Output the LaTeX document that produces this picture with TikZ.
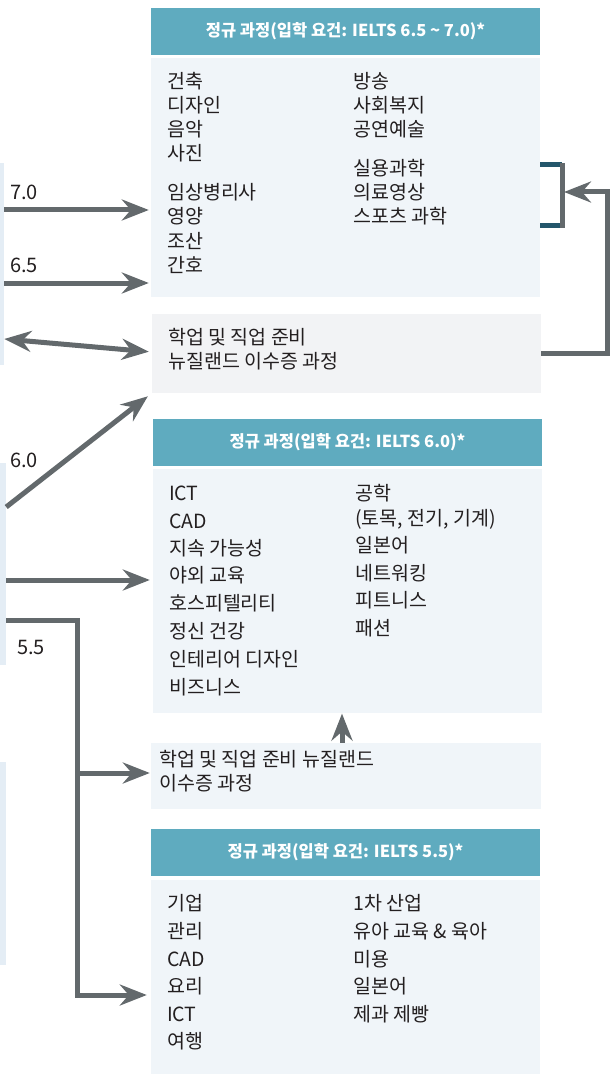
\documentclass[tikz,border=0pt]{standalone}
\usepackage{fontspec}
\setmainfont{Noto Sans CJK KR}
\usetikzlibrary{arrows.meta,positioning}
\definecolor{hdrteal}{RGB}{95,171,191}
\definecolor{bodyblue}{RGB}{240,245,249}
\definecolor{boxgray}{RGB}{242,243,245}
\definecolor{stripblue}{RGB}{228,237,245}
\definecolor{arrgray}{RGB}{99,105,108}
\definecolor{brkteal}{RGB}{35,86,107}
\definecolor{txt}{RGB}{35,31,32}
\tikzstyle{hdr}=[rectangle, fill=hdrteal, text=white, font=\fontsize{16.5}{18}\selectfont\bfseries, minimum width=389pt, minimum height=47pt, inner sep=0pt]
\tikzstyle{body}=[rectangle, fill=bodyblue, minimum width=389pt, inner sep=0pt]
\tikzstyle{strip}=[rectangle, fill=stripblue, inner sep=0pt]
\tikzstyle{entry}=[anchor=base west, inner sep=0pt, text=txt, font=\fontsize{19.5}{24}\selectfont]
\tikzstyle{lbl}=[anchor=west, inner sep=0pt, text=txt, font=\fontsize{20}{24}\selectfont]
\tikzstyle{link}=[line width=5pt, draw=arrgray, line join=miter]
\tikzstyle{arrow}=[link, -{Stealth[length=27pt,width=21pt,inset=9pt]}]

\begin{document}
\begin{tikzpicture}[x=1pt,y=-1pt,node distance=3pt]
    \useasboundingbox (0,0) rectangle (610,1075);

    \node (s1) [strip, minimum width=4pt, minimum height=202pt] at (2,264) {};
    \node (s2) [strip, minimum width=6pt, minimum height=202pt] at (3,564) {};
    \node (s3) [strip, minimum width=6pt, minimum height=203pt] at (3,863.5) {};

    \node (h1) [hdr] at (345.5,31.5) {정규 과정(입학 요건: IELTS 6.5 \textasciitilde{} 7.0)*};
    \node (b1) [body, minimum height=239pt, below=of h1] {};
    \node (b2) [body, fill=boxgray, minimum height=79pt] at (346.5,353.5) {};
    \node (h3) [hdr] at (347.5,442.5) {정규 과정(입학 요건: IELTS 6.0)*};
    \node (b3) [body, minimum height=244pt, below=of h3] {};
    \node (b4) [body, minimum width=390pt, minimum height=66pt] at (346,776) {};
    \node (h5) [hdr] at (345.5,852.5) {정규 과정(입학 요건: IELTS 5.5)*};
    \node (b5) [body, minimum height=194pt, below=4pt of h5] {};

    \foreach \t/\y [count=\i] in {건축/82, 디자인/106, 음악/130, 사진/154, 임상병리사/193, 영양/217, 조산/241, 간호/265}
        \node (p1l\i) [entry] at (167,\y+7) {\t};
    \foreach \t/\y [count=\i] in {방송/82, 사회복지/106, 공연예술/130, 실용과학/169, 의료영상/193, 스포츠 과학/217}
        \node (p1r\i) [entry] at (353,\y+7) {\t};
    \node (p2a) [entry] at (168,344) {학업 및 직업 준비};
    \node (p2b) [entry] at (168,368) {뉴질랜드 이수증 과정};
    \foreach \t/\y [count=\i] in {ICT/493, CAD/521, 지속 가능성/548, 야외 교육/575, 호스피텔리티/603, 정신 건강/631, 인테리어 디자인/659, 비즈니스/687}
        \node (p3l\i) [entry] at (169,\y+7) {\t};
    \foreach \t/\y [count=\i] in {공학/493, {(토목, 전기, 기계)/518}, 일본어/545, 네트워킹/573, 피트니스/600, 패션/628}
        \node (p3r\i) [entry] at (355,\y+7) {\t};
    \node (p4a) [entry] at (159,766) {학업 및 직업 준비 뉴질랜드};
    \node (p4b) [entry] at (159,790) {이수증 과정};
    \foreach \t/\y [count=\i] in {기업/903, 관리/931, CAD/959, 요리/986, ICT/1014, 여행/1041}
        \node (p5l\i) [entry] at (167,\y+7) {\t};
    \foreach \t/\y [count=\i] in {1차 산업/903, 유아 교육 \& 육아/931, 미용/959, 일본어/986, 제과 제빵/1014}
        \node (p5r\i) [entry] at (353,\y+7) {\t};

    \node (l70) [lbl] at (10,192) {7.0};
    \node (l65) [lbl] at (10,265) {6.5};
    \node (l60) [lbl] at (10,460) {6.0};
    \node (l55) [lbl] at (17,647) {5.5};

    \coordinate (jt) at (77,620);
    \coordinate (jb) at (77,995);
    \coordinate (rc) at (607,192);
    \coordinate (brk) at (564,192);

    \draw[arrow, shorten >=2pt] (s1.east |- 0,210) -- (b1.west |- 0,210);
    \draw[arrow, shorten >=2pt] (s1.east |- 0,283) -- (b1.west |- 0,283);
    \draw[link, {Stealth[length=27pt,width=21pt,inset=9pt]}-{Stealth[length=27pt,width=21pt,inset=9pt]}, shorten >=3pt] (s1.east |- 0,339) -- (b2.west |- 0,352);
    \draw[arrow, shorten >=5pt] (s2.east |- 0,507) -- (b2.south west);
    \draw[arrow, shorten >=3pt] (s2.east |- 0,580) -- (b3.west |- 0,580);
    \draw[arrow, shorten >=4pt] (s2.east |- jt) -- (jt) -- (jb) -- (b5.west |- jb);
    \draw[arrow, shorten >=1pt] (jt |- 0,773) -- (b4.west |- 0,773);
    \draw[arrow] (b4.north -| 342,0) -- (b3.south -| 342,0);

    \draw[line width=5pt, draw=brkteal] (b1.east |- 0,165) -- (562,165) (b1.east |- 0,226) -- (562,226);
    \draw[link] (562,163) -- (562,228);
    \draw[arrow] (b2.east) -| (rc) -- (brk);
\end{tikzpicture}
\end{document}
